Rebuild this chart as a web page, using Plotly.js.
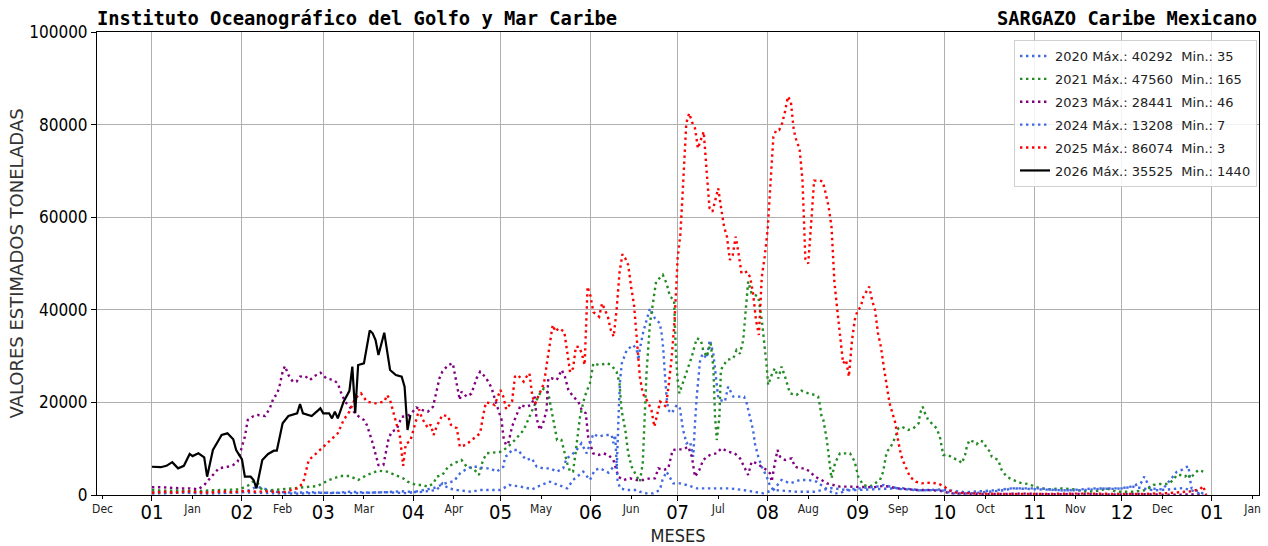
<!DOCTYPE html>
<html>
<head>
<meta charset="utf-8">
<script src="https://cdn.plot.ly/plotly-3.0.1.min.js"></script>
<style>html,body{margin:0;padding:0;background:#fff;}#chart{width:1268px;height:546px;}</style>
</head>
<body>
<div id="chart"></div>
<script>
// ---- DATA (day offset from 1 Jan, tonnes) ----
const seriesNames = ['2020 Máx.: 40292 \u00a0Min.: 35','2021 Máx.: 47560 \u00a0Min.: 165','2023 Máx.: 28441 \u00a0Min.: 46','2024 Máx.: 13208 \u00a0Min.: 7','2025 Máx.: 86074 \u00a0Min.: 3','2026 Máx.: 35525 \u00a0Min.: 1440'];

const s2020 = [[0,600],[5,400],[10,700],[15,500],[20,800],[25,500],[30,600],[33,900],[36,1800],[38,1500],
[42,700],[48,500],[55,600],[62,400],[68,700],[75,500],[80,600],[86,800],[92,600],[96,1000],
[98,1080],[100,2520],[102,1440],[105,1080],[110,700],[113,1080],[116,1080],[120,1080],[123,2160],[127,1800],
[131,1230],[134,2160],[137,2870],[140,2160],[143,1440],[145,3240],[148.5,5040],[150.8,3240],[152.5,5400],[154.3,5760],
[157.2,4820],[158.9,6100],[160.1,6480],[160.8,19070],[161.2,24840],[161.8,28440],[163.5,31320],[165.7,32400],[166.9,31500],[167.5,29160],
[168,31500],[169.2,35280],[170.3,37440],[171.5,40292],[173.2,38160],[174.9,37080],[175.5,34920],[176.1,31320],[176.7,25560],[177.2,21240],
[177.8,18360],[179,17650],[180.7,19440],[181.8,18720],[182.9,14040],[184.1,11160],[185.3,11500],[186.4,8280],[187,15480],[187.6,21240],
[188.7,28800],[189.6,30500],[191,29500],[192.1,33480],[193.3,30600],[194.4,25000],[195,21000],[195.6,20520],[197.3,20160],[198.4,23400],
[200.2,21240],[203.9,21240],[204.8,19800],[205.9,16900],[207,14040],[207.6,11160],[208.8,8280],[210,6100],[211.7,3960],[212.8,2000],
[214,1080],[218,900],[222,700],[228,700],[234,1500],[240,1000],[250,1300],[258,1500],[265,1000],[272,1200],
[280,600],[290,1000],[296,1440],[305,1300],[315,1000],[325,1440],[332,1300],[337,1800],[340.5,2520],[341.7,3960],
[342.3,3240],[343.7,1440],[348,1200],[352.9,5040],[354.6,5400],[356.9,6260],[357.5,3240],[358,1440],[362,300]];

const s2021 = [[0,1080],[5,900],[10,1000],[15,800],[20,1000],[25,1080],[30,1200],[33,2000],[35,3000],[36.5,2500],
[38,1000],[42,1080],[47.5,1440],[53,1800],[57,1940],[61,3240],[65,4100],[68,4100],[71,3240],[74,4320],
[78,5250],[81,5040],[84,4300],[86.5,3600],[88,2870],[89.4,2520],[91,2160],[93,2160],[95,1800],[97,2520],
[98,3960],[100,4320],[102,6100],[104,6850],[106.6,7560],[108.4,6100],[110.6,5760],[112.6,4320],[114,7560],[115.3,9000],
[118,9140],[120.4,9350],[122.6,10440],[125,11880],[128,14040],[130,16900],[131.3,19070],[133,21240],[134,22310],[135,23040],
[136.5,21960],[137.6,18360],[138.8,14750],[139.5,11880],[141,11880],[142,9000],[143,6850],[144,5040],[145,5040],[146,9720],
[147.4,16900],[149,21240],[150.8,24120],[152,28440],[154,28080],[157,28440],[158.6,27720],[160,26630],[161,24120],[161.7,18360],
[163,14040],[164,9000],[165.2,6100],[167,3960],[168,2870],[169,6850],[169.4,14040],[170.3,26280],[171.5,37080],[172.4,40680],
[173.6,46080],[175.9,47560],[177.2,45720],[178.4,42840],[179.8,42120],[180.4,31320],[180.9,25560],[181.6,21960],[182.4,23400],[184.1,26280],
[185.9,29880],[187.6,33840],[189,33480],[189.8,31320],[191,29880],[192.4,32770],[193.3,27720],[193.9,16900],[194.5,11880],[195.4,16900],
[195.9,27000],[198,29160],[200.2,29520],[201.3,31320],[202.5,30500],[203.6,33480],[204.8,43560],[205.3,46080],[206.5,43560],[208.8,42840],
[210,37800],[211.1,32040],[211.7,27720],[212.2,23760],[213.4,25920],[214.5,27360],[215.7,25200],[216.8,27720],[218,25560],[219.7,21960],
[222,21600],[223.7,22530],[226,21960],[228.3,21600],[229.4,21240],[230,19440],[230.6,16900],[231.2,16200],[232.4,11880],[233.5,6100],
[234,3600],[235.2,6850],[236.9,9000],[240.4,9000],[242,7200],[243.2,3960],[244.9,2160],[247.2,1800],[249,2520],[250.7,3240],
[251.8,5040],[252.4,7560],[253,9350],[254.1,10080],[255.3,11500],[256.4,13320],[257,14400],[258.2,14750],[260.4,14040],[262.2,14400],
[264,15480],[264.5,17650],[265.4,19070],[266.2,17650],[267.3,16200],[268.5,15480],[270.2,14400],[271.3,12600],[271.9,10440],[272.5,8640],
[274.2,8640],[276,7920],[277.7,7560],[278.9,6850],[280,8640],[280.6,10440],[281.5,11880],[282.9,11500],[284,11000],[285.1,11730],
[286.3,11500],[287.5,10080],[288.6,9350],[289.2,8280],[291.4,7560],[292.6,5400],[294.3,3960],[296.6,3240],[299.5,2520],[301.8,2380],
[303.5,1940],[305.8,1440],[309.2,1230],[312.7,1440],[317.3,1230],[321.9,700],[326.4,930],[328.7,1440],[332.2,700],[337.9,700],
[342.5,1080],[344.8,2160],[347.1,2380],[350,2380],[351.7,3240],[352.9,4320],[354,4320],[355.7,3960],[356.9,4540],[357.4,3600],
[358.6,4320],[360.3,5400],[362,5040]];

const s2023 = [[0,1660],[4,1660],[10,1440],[13,1440],[16,1230],[18,2160],[19,2870],[21.5,4680],[23,5760],[26,6100],
[28,6480],[29.5,7200],[31,10440],[32,12600],[33,16200],[35,17060],[36.5,17280],[39,17060],[40.6,18720],[42,21240],
[43,21600],[44,23760],[45,26630],[45.8,27860],[47,25920],[48.5,24480],[49.8,24480],[51,25560],[52.7,25700],[54.4,24840],
[56,25700],[58,26420],[60,25200],[62.5,24840],[64,24120],[65,22310],[66.5,20160],[68,19070],[70.5,17280],[73,16200],
[74,15120],[75.7,11880],[76.8,9000],[78,6480],[79.7,6480],[80.8,9720],[81.4,11880],[82.5,13680],[84.3,14180],[86,16900],
[87.7,17000],[89.4,17650],[91,18900],[93,18360],[95,18000],[96.8,19070],[98,22680],[99,25200],[100,26630],[102,28080],
[103.6,28441],[104.8,24480],[106,20520],[106.6,22310],[108.4,21240],[110,21900],[111.8,25200],[113,26630],[114.7,25560],[115.8,24480],
[117,23040],[118,20880],[119,19070],[120.4,16200],[121,12600],[121.9,10800],[122.7,11160],[124,14750],[125.3,16900],[127,19440],
[128.7,19070],[130.6,19440],[131.8,21240],[132.4,16700],[133.6,14040],[134.7,15480],[135.9,18360],[136.5,25200],[137.6,25200],[139.4,24840],
[141.1,27000],[142.2,25560],[143.4,22680],[145.1,21240],[146.8,20160],[148,18360],[149.4,17650],[150.2,12600],[151.9,9000],[153.7,8640],
[155.4,9000],[157.2,8640],[158.9,7560],[159.8,5400],[160.6,3960],[162.3,3240],[164.6,3600],[166.9,3240],[169.2,3240],[171.5,3600],
[173.2,3600],[174.4,5760],[176.1,5400],[177.8,5760],[179.3,9720],[181.2,9860],[183,9860],[184.7,10440],[185.9,8280],[187,3960],
[188.5,5400],[189.8,7560],[192.1,8640],[194.4,9000],[196.1,10080],[198.4,9350],[200.7,9000],[202.5,7920],[204.2,5760],[205.3,4320],
[206.5,7200],[208.2,6850],[209.9,6100],[211.7,5400],[212.8,4680],[213.4,2870],[214.5,6850],[215.4,9720],[216.3,8280],[218,7560],
[220.3,7920],[221.4,6100],[223.1,5760],[224.8,5760],[226.6,5040],[228.3,3960],[230.6,3240],[232.4,2520],[234.6,2160],[236.9,1800],
[240.4,1800],[243.8,1800],[248.4,1660],[251.8,1940],[254,1800],[256.4,1440],[260,1230],[263.4,1080],[267,1080],[271.3,930],
[274.8,360],[280,300],[290,200],[300,300],[310,150],[320,250],[330,100],[340,200],[350,46],[362,150]];

const s2024 = [[0,300],[10,500],[20,300],[30,600],[40,400],[50,300],[60,500],[70,400],[80,600],[88,400],
[93,1000],[97,1500],[101,2520],[104,3000],[106.1,4680],[107.8,5400],[110,6100],[112.4,6100],[114.1,5760],[116.4,5760],
[118.7,5040],[121,6100],[121.6,8280],[122.7,8640],[123.9,9720],[126.1,9720],[127.9,8280],[129,7560],[130.8,7920],[132.5,6100],
[134.7,5760],[137.1,5760],[139.4,5040],[141.6,5760],[142.8,7920],[144.5,8640],[146.2,9720],[147.9,11160],[149.7,9000],[152,13208],
[153.7,12600],[156,12960],[158.3,12960],[158.9,11160],[159.5,12960],[160.1,7000],[160.3,3240],[161.2,1440],[163.5,1080],[166.9,1080],
[168,700],[170.3,360],[172.6,360],[174.9,1080],[175.8,3240],[177.2,5040],[179.5,2520],[181.8,2520],[184.1,2160],[187.6,1440],
[192.1,1440],[195.6,1440],[199,1440],[203.6,1080],[207,700],[210.5,360],[214,1080],[216.8,3240],[219.7,2520],[223.1,3240],
[226,3240],[228.9,2870],[231.2,1800],[234.6,360],[236.9,360],[239.2,1080],[243.8,1440],[249.6,1800],[252,2160],[254,1800],
[257.6,1300],[264.5,1000],[271.3,1080],[275.8,360],[281.7,300],[288,700],[294.3,1080],[295.5,1440],[301.2,1440],[305.8,1440],
[312.7,1000],[319.6,1000],[328.7,1440],[334.2,1440],[337.9,1800],[341,1500],[345,1000],[350,1200],[355,1500],[358,1000],
[362,7]];

const s2025 = [[0,500],[4,700],[8,500],[12,800],[16,600],[20,500],[24,800],[28,600],[32,900],[36,700],
[40,800],[44,600],[46,700],[48,1000],[50,1440],[52,2520],[53,5400],[54,7560],[56,8640],[59,10440],
[61,11500],[64,13320],[66,16200],[68,18000],[70,20880],[72,21960],[74,20160],[77,19800],[80,20160],[81,21600],
[82,20520],[84,16200],[85.4,12600],[86.5,6300],[87.4,11000],[89,11700],[90,14040],[91,16200],[92,18500],[93,16560],
[95,14500],[96,15200],[97,12960],[98,14750],[100,17280],[102,17000],[103,15120],[105,14400],[106,10440],[108,10800],
[111,12250],[113,13320],[114,17000],[115,20000],[117,19800],[118,19440],[120,22680],[121,21240],[122,18500],[124,20160],
[125,25560],[126,25920],[128,24480],[129,25560],[130,26280],[131,21240],[132,19800],[135,24120],[136,28440],[137,32770],
[138,36720],[139,35280],[140,36000],[142,35280],[143,31320],[144,26500],[145,27360],[146,32040],[147,32000],[148,30600],
[149,28080],[150,45000],[151,43000],[152,39500],[154,38500],[155,41400],[157,38520],[158,35640],[159,34200],[160,39960],
[161,48000],[162,52000],[163,51120],[164,49680],[165,45000],[166,41040],[167,33480],[168,25560],[169,21960],[171,19800],
[172,18360],[173,14750],[175,20160],[177,19070],[178,24120],[179,29880],[180,38000],[181,51000],[182,56500],[183,70000],
[184,80280],[185,82440],[186,80500],[187,79200],[188,74880],[189,76680],[190,78470],[191,70000],[192,62000],[193,61200],
[194,63720],[195,66240],[196,61920],[197,58000],[198,55800],[199,50760],[200,51840],[201,55800],[202,52200],[203,47880],
[205,48240],[206,47000],[207,43560],[208,37800],[209,34560],[210,47150],[211,51480],[212,57240],[213,67330],[214,77400],
[215,78840],[216,78840],[217,80280],[218,82800],[219,86074],[220,85000],[221,78840],[222,76320],[223,74880],[224,68000],
[225,51000],[226,50000],[227,58680],[228,67890],[230,67890],[231,67680],[232,65160],[233,62280],[234,57960],[235,46000],
[236,39960],[237,34200],[238,28440],[239,29160],[240,25560],[241,33000],[242,37800],[243,39960],[244,40500],[245,42840],
[247,45000],[248,42000],[249,39960],[250,35000],[251,32040],[252,27720],[253,23400],[254,19800],[255,17650],[256,15500],
[257,11500],[258,8500],[259,6850],[260,5400],[261,3960],[263,2870],[265,2520],[267,2650],[269,2600],[271,2380],
[273,1800],[274,1080],[277,500],[285,300],[300,200],[320,300],[340,200],[350,400],[355,700],[358,800],
[361,1300],[362,1940],[363,3]];

const s2026 = [[0,6100],[3,6000],[5,6300],[7,7100],[9,5760],[11,6300],[13,8860],[14,8400],[16,9000],[18,8140],
[19,3960],[21,9720],[23,11880],[24,12960],[26,13320],[28,12030],[29,9720],[31,7700],[32,3960],[34,3960],
[35,3240],[36,1440],[38,7560],[40,8860],[42,9570],[43,9570],[45,15480],[47,17060],[50,17650],[51,19660],
[52,17650],[55,17060],[58,18720],[59,17650],[61,17650],[62,16560],[63,18000],[64,16560],[66,20160],[67,21240],
[68,22500],[69,27720],[70,17650],[71,28080],[73,28440],[75,35525],[76,34920],[77,33480],[78,30240],[80,35060],
[82,27000],[84,25920],[86,25560],[87,23400],[88,14040],[89,17280]];

const majorTickDates = ['2026-01-01','2026-02-01','2026-03-01','2026-04-01','2026-05-01','2026-06-01','2026-07-01','2026-08-01','2026-09-01','2026-10-01','2026-11-01','2026-12-01','2027-01-01'];
const majorTickLabels = ['01','02','03','04','05','06','07','08','09','10','11','12','01'];
const minorTickDates = ['2025-12-15','2026-01-15','2026-02-15','2026-03-15','2026-04-15','2026-05-15','2026-06-15','2026-07-15','2026-08-15','2026-09-15','2026-10-15','2026-11-15','2026-12-15','2027-01-15'];
const minorTickLabels = ['Dec','Jan','Feb','Mar','Apr','May','Jun','Jul','Aug','Sep','Oct','Nov','Dec','Jan'];
const xRange = ['2025-12-13 02:00','2027-01-17 05:00'];

// ---- build ----
const base = Date.UTC(2026,0,1);
function toDate(d){ return new Date(base + d*86400000).toISOString().slice(0,19).replace('T',' '); }

const colors = ['#4169E1','#228B22','#800080','#4169E1','#FF0000','#000000'];
const allSeries = [s2020,s2021,s2023,s2024,s2025,s2026];
const traces = allSeries.map((s,i)=>({
  type:'scatter', mode:'lines',
  x: s.map(p=>toDate(p[0])), y: s.map(p=>p[1]),
  name: seriesNames[i], legendgroup:'g'+i,
  line: i===5 ? {color:colors[i], width:2.2} : {color:colors[i], width:2.4, dash:'2.4px,3.6px'},
  hoverinfo:'skip'
}));
// dummy trace on the minor axis to activate it
traces.push({type:'scatter', mode:'lines', x:[xRange[0]], y:[0], xaxis:'x2', showlegend:false, hoverinfo:'skip', line:{width:0}});

const narrow = 'Liberation Sans Narrow, DejaVu Sans Condensed, Arial Narrow, sans-serif';
const mono = 'DejaVu Sans Mono, monospace';

const layout = {
  width:1268, height:546,
  margin:{l:97, r:9, t:32, b:51, pad:0},
  paper_bgcolor:'#fff', plot_bgcolor:'#fff',
  showlegend:true,
  title:{text:'Instituto Oceanográfico del Golfo y Mar Caribe', x:97/1268, xanchor:'left', xref:'container', y:1-18/546, yanchor:'middle', yref:'container',
         font:{family:mono, size:18.8, weight:'bold', color:'#000'}},
  annotations:[{text:'SARGAZO Caribe Mexicano', xref:'paper', yref:'paper', x:1, xanchor:'right', y:(495-18)/463, yanchor:'middle', showarrow:false,
         font:{family:mono, size:18.8, weight:'bold', color:'#000'}}],
  xaxis:{type:'date', range:xRange, tickmode:'array', tickvals:majorTickDates, ticktext:majorTickLabels,
         ticks:'outside', ticklen:5, tickwidth:1, tickcolor:'#000', ticklabelstandoff:-6,
         tickfont:{family:narrow, size:20, color:'#000'},
         showgrid:true, gridcolor:'#b0b0b0', gridwidth:1, zeroline:false,
         showline:true, linecolor:'#000', linewidth:1, mirror:true,
         title:{text:'MESES', font:{family:narrow, size:18, color:'#222'}, standoff:10},
         automargin:false, fixedrange:true},
  xaxis2:{type:'date', range:xRange, overlaying:'x', anchor:'y', side:'bottom', tickmode:'array', tickvals:minorTickDates, ticktext:minorTickLabels,
         ticks:'outside', ticklen:2.5, tickwidth:1, tickcolor:'#000',
         tickfont:{family:narrow, size:12, color:'#222'},
         showgrid:false, zeroline:false, showline:false, automargin:false, fixedrange:true},
  yaxis:{range:[0,100000], tickmode:'linear', tick0:0, dtick:20000, tickformat:'d',
         ticks:'outside', ticklen:5, tickwidth:1, tickcolor:'#000',
         tickfont:{family:narrow, size:17, color:'#000'},
         showgrid:true, gridcolor:'#b0b0b0', gridwidth:1, zeroline:false,
         showline:true, linecolor:'#000', linewidth:1, mirror:true,
         title:{text:'VALORES ESTIMADOS TONELADAS', font:{family:'DejaVu Sans, sans-serif', size:18, color:'#333'}, standoff:0},
         automargin:false, fixedrange:true},
  legend:{x:(1257-97)/1162, y:(495-40)/463, xanchor:'right', yanchor:'top',
          bgcolor:'rgba(255,255,255,0.85)', bordercolor:'#d0d0d0', borderwidth:1,
          font:{family:'DejaVu Sans, sans-serif', size:13, color:'#222'}, tracegroupgap:3}
};

Plotly.newPlot('chart', traces, layout, {staticPlot:true, displayModeBar:false});
</script>
</body>
</html>
